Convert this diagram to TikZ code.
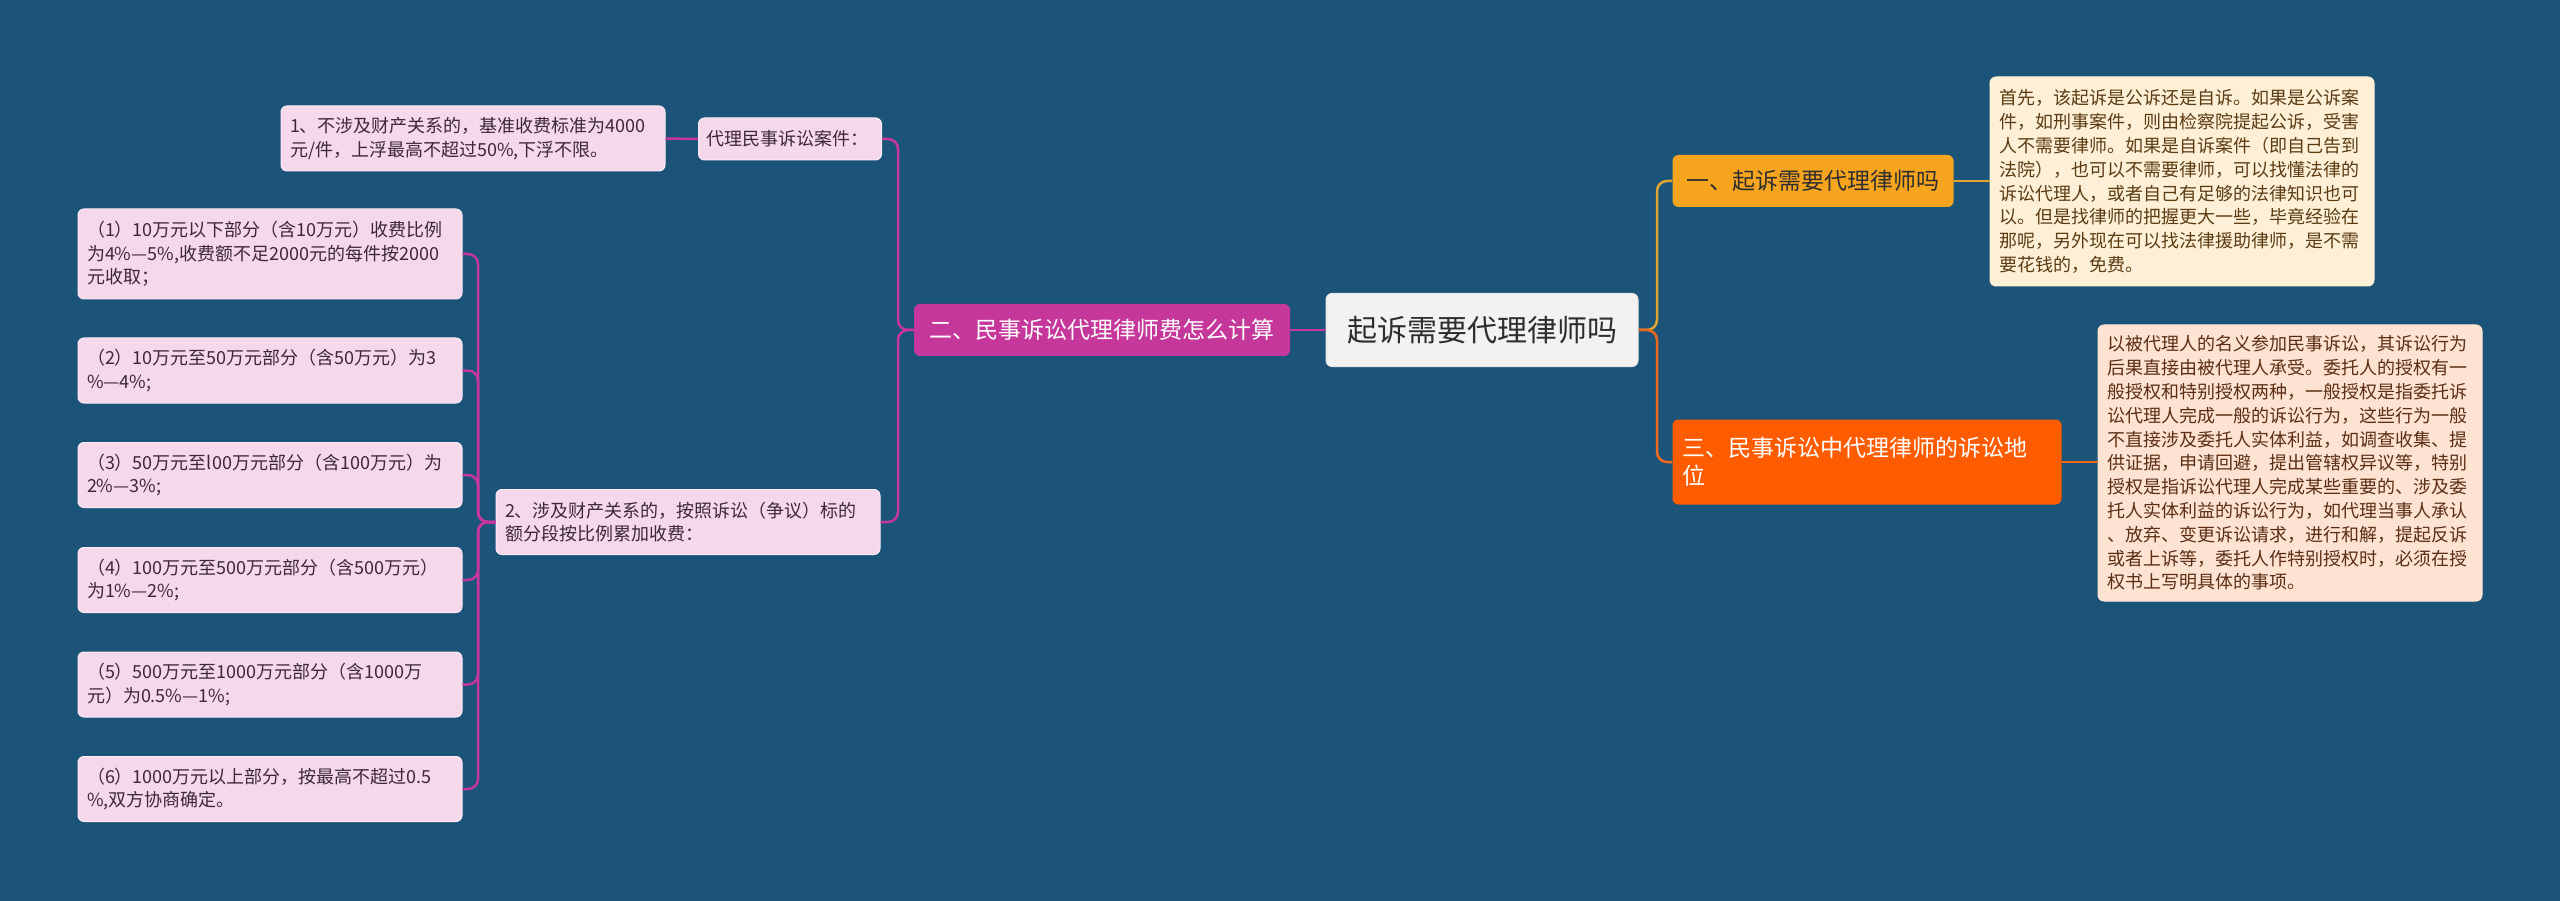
\documentclass[tikz,border=0pt]{standalone}
\usepackage{fontspec}
\setmainfont{Noto Sans CJK SC}
\definecolor{bgc}{HTML}{1B5478}
\definecolor{leafc}{HTML}{F6D8EC}
\definecolor{leafb}{HTML}{FBEAF5}
\definecolor{leaft}{HTML}{3B2838}
\definecolor{magc}{HTML}{C5379A}
\definecolor{orc}{HTML}{F7A51F}
\definecolor{redc}{HTML}{FF5C00}
\definecolor{n1c}{HTML}{FEF0D7}
\definecolor{n1t}{HTML}{5B3B12}
\definecolor{n3c}{HTML}{FEE3D3}
\definecolor{n3t}{HTML}{5B2E14}
\definecolor{rootc}{HTML}{F2F2F2}
\definecolor{roott}{HTML}{2E2E2E}
\definecolor{orline}{HTML}{E0A531}
\definecolor{redline}{HTML}{EE6A1E}
\begin{document}
\begin{tikzpicture}[x=1pt,y=-1pt,
  box/.style={rounded corners=6pt, inner sep=0pt},
  leaf/.style={box, fill=leafc, draw=leafb, line width=1pt, text=leaft, text width=366pt, minimum width=384pt, align=left, font=\fontsize{18}{23.5}\selectfont},
  note/.style={box, line width=1pt, text width=366pt, minimum width=384pt, align=left, font=\fontsize{18}{23.8}\selectfont},
  main/.style={box, font=\fontsize{23}{28}\selectfont, align=center},
  conn/.style={line width=2.5pt, rounded corners=10pt}
]
\fill[bgc] (0,0) rectangle (2560,901);
\useasboundingbox (0,0) rectangle (2560,901);

% root
\node[box, fill=rootc, draw=white!80!gray, line width=1pt, text=roott, minimum width=312pt, minimum height=73pt, font=\fontsize{30}{34}\selectfont] (root) at (1482,330) {起诉需要代理律师吗};

% main branches
\node[main, fill=magc, text=white, minimum width=376pt, minimum height=52pt] (mag) at (1102,330) {二、民事诉讼代理律师费怎么计算};
\node[main, fill=orc, text=roott, minimum width=281pt, minimum height=52pt] (or1) at (1813,181) {一、起诉需要代理律师吗};
\node[main, fill=redc, text=white, text width=369pt, minimum width=389pt, minimum height=85pt, align=left] (or3) at (1867,462) {三、民事诉讼中代理律师的诉讼地\\位};

% notes
\node[note, fill=n1c, draw=n1c, text=n1t, minimum height=209pt] (note1) at (2182,181.5) {首先，该起诉是公诉还是自诉。如果是公诉案\\件，如刑事案件，则由检察院提起公诉，受害\\人不需要律师。如果是自诉案件（即自己告到\\法院），也可以不需要律师，可以找懂法律的\\诉讼代理人，或者自己有足够的法律知识也可\\以。但是找律师的把握更大一些，毕竟经验在\\那呢，另外现在可以找法律援助律师，是不需\\要花钱的，免费。};
\node[note, fill=n3c, draw=n3c, text=n3t, minimum height=276pt] (note3) at (2290,463) {以被代理人的名义参加民事诉讼，其诉讼行为\\后果直接由被代理人承受。委托人的授权有一\\般授权和特别授权两种，一般授权是指委托诉\\讼代理人完成一般的诉讼行为，这些行为一般\\不直接涉及委托人实体利益，如调查收集、提\\供证据，申请回避，提出管辖权异议等，特别\\授权是指诉讼代理人完成某些重要的、涉及委\\托人实体利益的诉讼行为，如代理当事人承认\\、放弃、变更诉讼请求，进行和解，提起反诉\\或者上诉等，委托人作特别授权时，必须在授\\权书上写明具体的事项。};

% left side
\node[leaf, text width=167pt, minimum width=183pt, minimum height=42pt] (dl) at (790,139) {代理民事诉讼案件：};
\node[leaf, minimum height=65pt] (n1) at (473,138.5) {1、不涉及财产关系的，基准收费标准为4000\\元/件，上浮最高不超过50\%,下浮不限。};
\node[leaf, minimum height=65pt] (n2) at (688,522) {2、涉及财产关系的，按照诉讼（争议）标的\\额分段按比例累加收费：};

\node[leaf, minimum height=90pt] (l1) at (270,254) {（1）10万元以下部分（含10万元）收费比例\\为4\%—5\%,收费额不足2000元的每件按2000\\元收取；};
\node[leaf, minimum height=65pt] (l2) at (270,370.5) {（2）10万元至50万元部分（含50万元）为3\\\%—4\%;};
\node[leaf, minimum height=65pt] (l3) at (270,475) {（3）50万元至l00万元部分（含100万元）为\\2\%—3\%;};
\node[leaf, minimum height=65pt] (l4) at (270,580) {（4）100万元至500万元部分（含500万元）\\为1\%—2\%;};
\node[leaf, minimum height=65pt] (l5) at (270,684.5) {（5）500万元至1000万元部分（含1000万\\元）为0.5\%—1\%;};
\node[leaf, minimum height=65pt] (l6) at (270,789) {（6）1000万元以上部分，按最高不超过0.5\\\%,双方协商确定。};

% spine coordinates
\coordinate (ms) at (898,330);
\coordinate (ls) at (478,522);
\coordinate (rs) at (1657,330);

% connectors
\draw[conn, magc] (root.west) -- (mag.east);
\draw[conn, magc] (mag.west) -- (ms) |- (dl.east);
\draw[conn, magc] (mag.west) -- (ms) |- (n2.east);
\draw[conn, magc] (dl.west) -- (n1.east);
\foreach \l in {l1,l2,l3,l4,l5,l6}
  \draw[conn, magc] (n2.west) -- (ls) |- (\l.east);
\draw[conn, orline] (root.east) -- (rs) |- (or1.west);
\draw[conn, redline] (root.east) -- (rs) |- (or3.west);
\draw[conn, orline] (or1.east) -- (note1.west |- or1.east);
\draw[conn, redline] (or3.east) -- (note3.west |- or3.east);
\end{tikzpicture}
\end{document}
